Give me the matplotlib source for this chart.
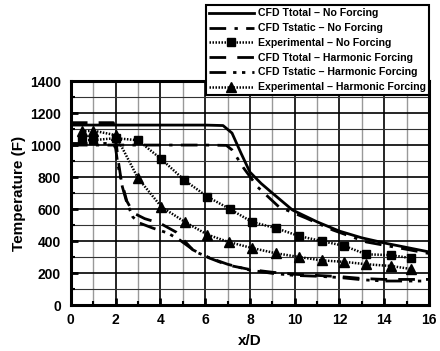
import numpy as np
import matplotlib
matplotlib.use("Agg")
import matplotlib.pyplot as plt
from matplotlib.ticker import MultipleLocator

# CFD, no forcing
x_tt_nf = [0, 1, 2, 3, 4, 5, 6, 6.8, 7.2, 7.6, 8.0, 8.5, 9.0, 9.9, 11.0, 12.0, 13.0, 14.1, 15.0, 16.0]
y_tt_nf = [1125, 1125, 1125, 1125, 1125, 1125, 1125, 1122, 1075, 950, 831, 760, 700, 594, 520, 462, 420, 385, 360, 332]
x_ts_nf = [0, 1, 2, 3, 4, 5, 6, 6.95, 7.2, 7.5, 7.7, 8.35, 9.3, 10.5, 11.7, 13.2, 14.7, 16.0]
y_ts_nf = [1000, 1000, 1000, 1000, 1000, 1000, 1000, 998, 970, 905, 860, 737, 613, 544, 469, 394, 356, 322]

# CFD, harmonic forcing
x_tt_hf = [0, 1, 1.9, 2.0, 2.1, 2.25, 2.5, 2.8, 3.3, 4.0, 4.7, 5.45, 6.2, 7.0, 8.0, 9.0, 10.0, 11.0, 12.0, 13.0, 14.0, 15.0, 16.0]
y_tt_hf = [1140, 1140, 1140, 1050, 920, 780, 650, 575, 540, 510, 456, 345, 293, 250, 222, 205, 192, 185, 178, 166, 160, 160, 160]
x_ts_hf = [0, 1, 1.9, 2.0, 2.1, 2.3, 2.5, 2.77, 3.08, 3.66, 4.33, 4.87, 5.6, 6.2, 7.0, 8.0, 9.0, 10.0, 11.0, 12.0, 13.0, 14.0, 15.0, 16.0]
y_ts_hf = [1010, 1010, 1010, 980, 880, 740, 640, 550, 512, 481, 450, 406, 331, 295, 255, 218, 198, 185, 180, 172, 158, 150, 150, 150]

# experimental
x_exp_nf = [0.5, 1.0, 2.0, 3.0, 4.05, 5.07, 6.1, 7.1, 8.1, 9.15, 10.2, 11.2, 12.2, 13.2, 14.3, 15.2]
y_exp_nf = [1031, 1031, 1043, 1030, 911, 781, 677, 600, 519, 481, 431, 400, 370, 317, 312, 293]
x_exp_hf = [0.5, 1.0, 2.0, 3.0, 4.05, 5.1, 6.1, 7.05, 8.1, 9.15, 10.2, 11.2, 12.2, 13.2, 14.3, 15.2]
y_exp_hf = [1085, 1090, 1062, 793, 613, 519, 440, 394, 356, 324, 300, 279, 270, 255, 244, 225]

labels = ["CFD Ttotal \u2013 No Forcing", "CFD Tstatic \u2013 No Forcing",
          "Experimental \u2013 No Forcing", "CFD Ttotal \u2013 Harmonic Forcing",
          "CFD Tstatic \u2013 Harmonic Forcing", "Experimental \u2013 Harmonic Forcing"]

plt.rcParams["font.family"] = ["Liberation Sans", "DejaVu Sans"]
fig = plt.figure(figsize=(4.4, 3.51), dpi=100)
ax = fig.add_axes([0.161, 0.131, 0.814, 0.638])

lw = 2.0
ax.plot(x_tt_nf, y_tt_nf, color="black", lw=lw, ls="-", label=labels[0])
ax.plot(x_ts_nf, y_ts_nf, color="black", lw=lw, ls=(0, (6, 3, 1.2, 3)), label=labels[1])
ax.plot(x_exp_nf, y_exp_nf, color="black", lw=1.8, ls=(0, (0.6, 0.6)), marker="s", ms=6, label=labels[2])
ax.plot(x_tt_hf, y_tt_hf, color="black", lw=lw, ls=(0, (6, 4)), label=labels[3])
ax.plot(x_ts_hf, y_ts_hf, color="black", lw=lw, ls=(0, (6, 2.5, 1.2, 2, 1.2, 2.5)), label=labels[4])
ax.plot(x_exp_hf, y_exp_hf, color="black", lw=1.8, ls=(0, (0.6, 0.6)), marker="^", ms=6.5, label=labels[5])

ax.set_xlim(0, 16)
ax.set_ylim(0, 1400)
ax.xaxis.set_major_locator(MultipleLocator(2))
ax.xaxis.set_minor_locator(MultipleLocator(1))
ax.yaxis.set_major_locator(MultipleLocator(200))
ax.yaxis.set_minor_locator(MultipleLocator(100))
ax.grid(which="major", color="black", lw=1.2)
ax.grid(which="minor", axis="x", color="#999999", lw=1.0)
ax.grid(which="minor", axis="y", color="#333333", lw=0.8)
ax.set_axisbelow(True)
ax.tick_params(which="major", direction="in", length=5, width=2, labelsize=10)
ax.tick_params(axis="x", which="major", pad=6)
ax.tick_params(axis="y", which="major", pad=7)
ax.tick_params(which="minor", direction="in", length=3, width=1.5)
for lab in ax.get_xticklabels() + ax.get_yticklabels():
    lab.set_fontweight("bold")
for s in ax.spines.values():
    s.set_linewidth(2.2)

ax.set_xlabel("x/D", fontsize=11, fontweight="bold", labelpad=5)
ax.set_ylabel("Temperature (F)", fontsize=11, fontweight="bold", labelpad=3)

leg = fig.legend(loc="upper right", bbox_to_anchor=(0.987, 1.0),
                 prop={"weight": "bold", "size": 7.6},
                 frameon=True, fancybox=False, edgecolor="black", framealpha=1,
                 handlelength=4.2, handletextpad=0.4, labelspacing=0.45, borderpad=0.3)
leg.get_frame().set_linewidth(1.5)

fig.savefig("out.png", dpi=100)
